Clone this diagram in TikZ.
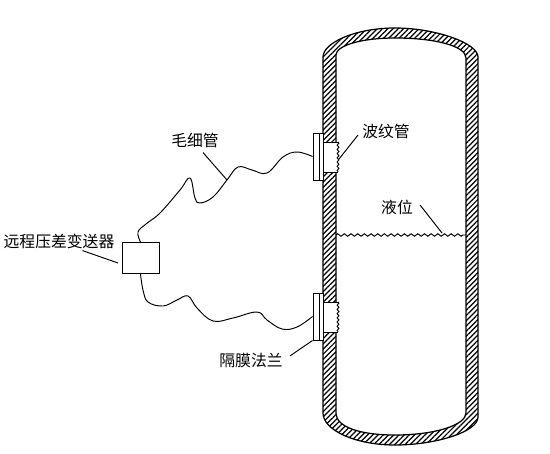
\documentclass[tikz,border=0pt]{standalone}
\usepackage{fontspec}
\usepackage{xcolor}
\setmainfont{Noto Sans CJK SC}
\usetikzlibrary{patterns.meta,decorations.pathmorphing}

\begin{document}
\begin{tikzpicture}[
  x=0.02cm,y=-0.02cm,line width=0.55pt,
  label/.style={inner sep=1pt,font=\fontsize{9pt}{10pt}\selectfont},
  flangebox/.style={draw,fill=white,inner sep=0pt,minimum width=0.2cm,minimum height=0.94cm},
  txbox/.style={draw,inner sep=0pt,minimum width=0.74cm,minimum height=0.62cm},
  hatched/.style={draw,even odd rule,line width=0.7pt,pattern={Lines[angle=45,distance=2.1pt,line width=0.7pt]}},
  ripple/.style={decorate,decoration={zigzag,segment length=3.8pt,amplitude=0.7pt}},
  teeth/.style={decorate,decoration={zigzag,segment length=2.4pt,amplitude=0.5pt}}
]
  \useasboundingbox (0,0) rectangle (550,453);
  \draw[hatched] (323,57) .. controls (323,43) and (355,28) .. (395,28)
    .. controls (435,28) and (478,43) .. (478,57) -- (478,417)
    .. controls (478,432) and (435,445) .. (395,445)
    .. controls (355,445) and (323,430) .. (323,413) -- cycle
    (336,55) .. controls (336,46) and (360,38) .. (395,38)
    .. controls (435,38) and (466,46) .. (466,58) -- (466,413)
    .. controls (466,425) and (435,435) .. (395,435)
    .. controls (360,435) and (336,427) .. (336,413) -- cycle;
  % openings in the wall
  \fill[white] (322.7,142) rectangle (336.5,172);
  \fill[white] (322.7,302) rectangle (336.5,332);
  \node[flangebox] (flangeA) at (318,156.5) {};
  \node[flangebox] (flangeB) at (318,316.5) {};
  \draw (319,133) -- (319,180);
  \draw (319,293) -- (319,340);
  \draw (323,142) -- (338,142);
  \draw (323,172) -- (338,172);
  \draw (323,302) -- (338,302);
  \draw (323,332) -- (338,332);
  \draw[teeth] (338,142) -- (338,172);
  \draw[teeth] (338,302) -- (338,332);
  \draw[ripple] (336,235) -- (466,235);

  \node[txbox] (tx) at (140.5,258) {};
  \draw plot[smooth,tension=0.65] coordinates {(tx.north) (138,232) (146,224) (160,213) (180,190) (190,178)
    (195,198) (200,203) (213,197) (227,180) (238,167) (252,170) (267,173) (283,157) (297,152) (flangeA.west)};
  \draw plot[smooth,tension=0.65] coordinates {(tx.south) (143,290) (148,302) (163,306) (177,300) (188,296)
    (197,308) (213,321) (233,318) (257,312) (267,320) (282,329) (297,327) (flangeB.west)};

  \node[label] (lblTx) at (59,241) {远程压差变送器};
  \node[label] (lblPipe) at (195,140) {毛细管};
  \node[label] (lblBellows) at (386,131) {波纹管};
  \node[label] (lblLevel) at (397,207) {液位};
  \node[label] (lblFlange) at (251,360) {隔膜法兰};
  \coordinate (tipTx) at (118,263);
  \coordinate (tipPipe) at (227,180);
  \coordinate (tipBellows) at (339,159);
  \coordinate (tipLevel) at (442,233);
  \draw (lblTx.south east) ++(-34,0) -- (tipTx);
  \draw (lblPipe.south) ++(8,3) -- (tipPipe);
  \draw (lblBellows.west) ++(-2,4) -- (tipBellows);
  \draw (lblLevel.east) ++(5,-2) -- (tipLevel);
  \draw (lblFlange.east) ++(5,-4) -- (flangeB.south west);
\end{tikzpicture}
\end{document}
